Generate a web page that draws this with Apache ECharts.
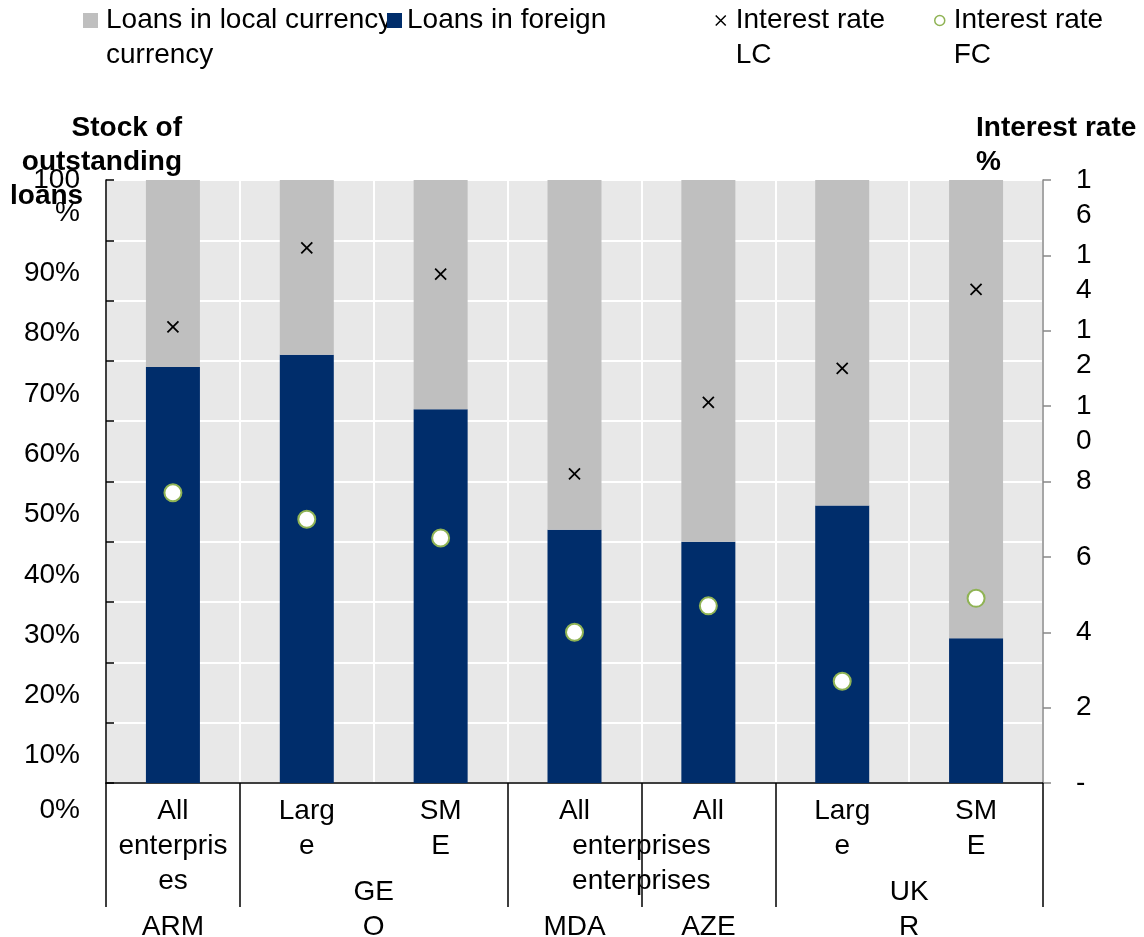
<!DOCTYPE html>
<html>
<head>
<meta charset="utf-8">
<script src="https://cdn.jsdelivr.net/npm/echarts@6/dist/echarts.min.js"></script>
<style>
  html, body { margin: 0; padding: 0; background: #fff; }
  #chart { width: 1144px; height: 937px; }
</style>
</head>
<body>
<div id="chart"></div>
<script>
// categories as they are wrapped on the axis
const categoryLabels = ["All\nenterpris\nes", "Larg\ne", "SM\nE", "All\nenterprises", "All\nenterprises", "Larg\ne", "SM\nE"];
const groupNames = ["ARM", "GE\nO", "MDA", "AZE", "UK\nR"];
const groupSizes = [1, 2, 1, 1, 2];

// share of stock of outstanding loans, %
const foreignShare = [69, 71, 62, 42, 40, 46, 24];
const localShare = [31, 29, 38, 58, 60, 54, 76];

// interest rates, %
const rateLC = [12.1, 14.2, 13.5, 8.2, 10.1, 11.0, 13.1];
const rateFC = [7.7, 7.0, 6.5, 4.0, 4.7, 2.7, 4.9];

const seriesNames = ["Loans in local currency", "Loans in foreign currency", "Interest rate LC", "Interest rate FC"];
const legendLabels = ["Loans in local currency\ncurrency", "Loans in foreign", "Interest rate\nLC", "Interest rate\nFC"];

const FONT = "'Liberation Sans', Arial, sans-serif";
const FS = 28;
const LH = 35;
const GREY = "#bfbfbf";
const NAVY = "#002d6b";
const GREEN = "#8fb354";

// second row of the axis: group names sit at the middle of their span
const groupSlots = new Array(categoryLabels.length * 2 + 1).fill("");
const boundaries = [];
let start = 0;
groupSizes.forEach((n, i) => {
  boundaries.push(start);
  groupSlots[2 * start + n] = groupNames[i];
  start += n;
});

const txt = (extra) => Object.assign({ fontSize: FS, fontFamily: FONT, color: "#000", lineHeight: LH }, extra || {});

const legendFor = (i, left, top, w, h, icon, itemStyle, padLeft) => ({
  data: [{ name: seriesNames[i], icon: icon }],
  left: left,
  top: top,
  padding: 0,
  itemWidth: w,
  itemHeight: h,
  selectedMode: false,
  itemStyle: itemStyle,
  formatter: () => (legendLabels[i].includes("\n") ? " \n" : "") + legendLabels[i],
  textStyle: txt({ padding: [0, 0, 0, padLeft] })
});

const chart = echarts.init(document.getElementById("chart"));

chart.setOption({
  animation: false,
  backgroundColor: "#fff",
  title: [
    {
      left: 10,
      top: 111,
      padding: 0,
      text: "{a|Stock of}\n{a|outstanding}\n{b|loans}",
      textStyle: {
        rich: {
          a: txt({ fontWeight: "bold", lineHeight: 34, width: 172, align: "right" }),
          b: txt({ fontWeight: "bold", lineHeight: 34, width: 172, align: "left" })
        }
      }
    },
    {
      left: 976,
      top: 111,
      padding: 0,
      text: "Interest rate\n%",
      textStyle: txt({ fontWeight: "bold", lineHeight: 34 })
    }
  ],
  legend: [
    legendFor(0, 83, -32, 15, 15, "rect", { color: GREY }, 3),
    legendFor(1, 387, 3, 15, 15, "rect", { color: NAVY }, 0),
    legendFor(2, 715, -32, 10, 10, "path://M0,0L10,10M10,0L0,10", { color: "transparent", borderColor: "#000", borderWidth: 1.5 }, 5),
    legendFor(3, 934, -32, 10, 10, "circle", { color: "#fff", borderColor: GREEN, borderWidth: 1.5 }, 4)
  ],
  grid: {
    left: 106,
    right: 101,
    top: 180,
    bottom: 154,
    show: true,
    backgroundColor: "#e8e8e8",
    borderWidth: 0,
    containLabel: false,
    outerBoundsMode: "none"
  },
  xAxis: [
    {
      type: "category",
      data: categoryLabels,
      boundaryGap: true,
      axisLine: { show: true, lineStyle: { color: "#000", width: 1.5 } },
      axisTick: {
        show: true,
        length: 124,
        interval: (index) => boundaries.includes(index),
        lineStyle: { color: "#000", width: 1.5 }
      },
      splitLine: { show: true, interval: 0, lineStyle: { color: "#fff", width: 2 } },
      axisLabel: Object.assign(txt(), {
        interval: 0,
        margin: 11,
        formatter: (value, index) => {
          const lines = value.split("\n");
          if (index === 3) return lines[0] + "\n{r|" + lines[1] + "}";
          if (index === 4) return lines[0] + "\n\n{l|" + lines[1] + "}";
          return value;
        },
        rich: {
          r: txt({ padding: [0, 0, 0, 134] }),
          l: txt({ padding: [0, 134, 0, 0] })
        }
      })
    },
    {
      type: "category",
      data: groupSlots,
      boundaryGap: false,
      position: "bottom",
      axisLine: { show: false },
      axisTick: { show: false },
      splitLine: { show: false },
      axisLabel: Object.assign(txt(), {
        interval: 0,
        margin: 162,
        verticalAlign: "bottom"
      })
    }
  ],
  yAxis: [
    {
      type: "value",
      min: 0,
      max: 100,
      interval: 10,
      axisLine: { show: true, lineStyle: { color: "#000", width: 1.5 } },
      axisTick: { show: true, inside: true, length: 8, lineStyle: { color: "#000", width: 1.5 } },
      splitLine: { show: true, lineStyle: { color: "#fff", width: 2 } },
      axisLabel: {
        margin: 26,
        showMinLabel: true,
        showMaxLabel: true,
        verticalAlign: "top",
        // labels sit half a step below their tick, as in the source
        formatter: (v) => {
          if (v === 100) return "{h|100}\n{e| }\n{h|%}";
          if (v === 0) return "{z| }\n{h|0%}";
          return "{e| }\n{h|" + v + "%}";
        },
        rich: {
          h: txt({ lineHeight: 0 }),
          e: txt({ lineHeight: 33 }),
          z: txt({ lineHeight: 27 })
        }
      }
    },
    {
      type: "value",
      min: 0,
      max: 16,
      interval: 2,
      position: "right",
      axisLine: { show: true, lineStyle: { color: "#888", width: 1.5 } },
      axisTick: { show: true, length: 8, lineStyle: { color: "#888", width: 1.5 } },
      splitLine: { show: false },
      axisLabel: {
        margin: 33,
        showMinLabel: true,
        showMaxLabel: true,
        verticalAlign: "top",
        formatter: (v) => {
          if (v === 0) return "{h|-}";
          const d = String(v).split("");
          return "{h|" + d[0] + "}" + (d.length > 1 ? "\n{f| }\n{h|" + d[1] + "}" : "");
        },
        rich: {
          h: txt({ lineHeight: 0 }),
          f: txt({ lineHeight: 35 })
        }
      }
    }
  ],
  series: [
    {
      name: seriesNames[1],
      type: "bar",
      stack: "share",
      barWidth: 54,
      itemStyle: { color: NAVY },
      data: foreignShare
    },
    {
      name: seriesNames[0],
      type: "bar",
      stack: "share",
      barWidth: 54,
      itemStyle: { color: GREY },
      data: localShare
    },
    {
      name: seriesNames[2],
      type: "scatter",
      yAxisIndex: 1,
      symbol: "path://M0,0L10,10M10,0L0,10",
      symbolSize: 11,
      itemStyle: { color: "transparent", borderColor: "#000", borderWidth: 1.8, opacity: 1 },
      z: 5,
      data: rateLC
    },
    {
      name: seriesNames[3],
      type: "scatter",
      yAxisIndex: 1,
      symbol: "circle",
      symbolSize: 17,
      itemStyle: { color: "#fff", borderColor: GREEN, borderWidth: 2, opacity: 1 },
      z: 5,
      data: rateFC
    }
  ]
});
</script>
</body>
</html>
